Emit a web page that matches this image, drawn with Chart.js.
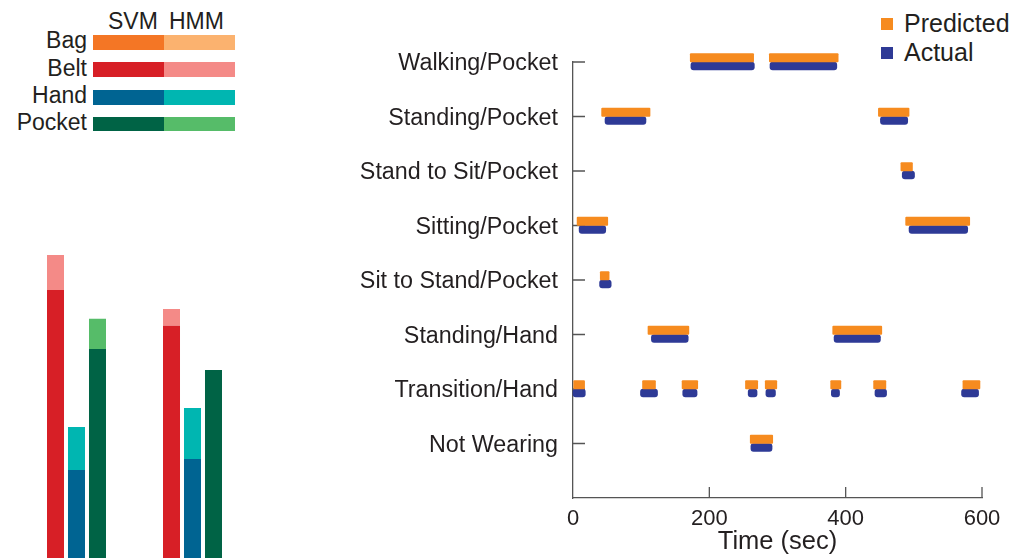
<!DOCTYPE html>
<html>
<head>
<meta charset="utf-8">
<title>Activity recognition: predicted vs actual</title>
<script src="https://cdn.jsdelivr.net/npm/chart.js@4.4.1/dist/chart.umd.min.js"></script>
<style>
  body { margin: 0; width: 1027px; height: 558px; overflow: hidden; background: #fff;
         font-family: "Liberation Sans", Arial, sans-serif; color: #231f20; }
  .abs { position: absolute; white-space: nowrap; line-height: 1; }
  #barsWrap { position: absolute; left: 0; top: 240px; }
  #timeWrap { position: absolute; left: 300px; top: 0; }
</style>
</head>
<body>
<div id="posLegend"></div>
<div id="timeLegend"></div>
<div id="barsWrap"><canvas id="accuracyChart" width="260" height="318"></canvas></div>
<div id="timeWrap"><canvas id="timelineChart" width="727" height="558"></canvas></div>
<script>
// Sensor placement key (SVM shade / HMM shade)
const positions = ['Bag', 'Belt', 'Hand', 'Pocket'];
const svmColors = ['#f47625', '#d71f26', '#006492', '#006345'];
const hmmColors = ['#fbb26f', '#f48a87', '#00b6b1', '#56bc69'];

// Accuracy bars, two groups, SVM with HMM on top
const barGroups = ['Group 1', 'Group 2'];
const beltSvm = [84.3, 73.0];
const beltHmm = [95.3, 78.3];
const handSvm = [27.7, 31.1];
const handHmm = [41.2, 47.2];
const pocketSvm = [65.7, 59.1];
const pocketHmm = [75.2, 59.1];

// Timeline: [start, end] in seconds for each activity row
const activities = ['Walking/Pocket', 'Standing/Pocket', 'Stand to Sit/Pocket', 'Sitting/Pocket',
  'Sit to Stand/Pocket', 'Standing/Hand', 'Transition/Hand', 'Not Wearing'];
const predicted = [
  [[172, 265], [288, 389]],
  [[42, 113], [448, 493]],
  [[481, 498]],
  [[6, 51], [488, 582]],
  [[40, 53]],
  [[110, 170], [381, 453]],
  [[1, 17], [102, 121], [160, 183], [253, 271], [282, 299], [378, 393], [441, 459], [572, 597]],
  [[260, 293]]
];
const actual = [
  [[173, 266], [289, 387]],
  [[47, 107], [451, 491]],
  [[483, 501]],
  [[9, 48], [493, 579]],
  [[39, 56]],
  [[115, 169], [383, 451]],
  [[0, 18], [99, 124], [161, 182], [257, 270], [283, 297], [379, 391], [443, 460], [570, 595]],
  [[261, 292]]
];
const timeTicks = [0, 200, 400, 600];

const ORANGE = '#f68b1f';
const BLUE = '#2e3a96';
const AXIS = '#555555';
const TEXT = '#231f20';

Chart.defaults.font.family = '"Liberation Sans", Arial, sans-serif';
Chart.defaults.color = TEXT;

// ---- HTML keys ----
function addText(parent, text, css) {
  const el = document.createElement('div');
  el.className = 'abs';
  el.textContent = text;
  Object.assign(el.style, css);
  parent.appendChild(el);
  return el;
}

const posLegend = document.getElementById('posLegend');
addText(posLegend, 'SVM', { left: '108px', top: '9.5px', fontSize: '23px' });
addText(posLegend, 'HMM', { left: '169px', top: '9.5px', fontSize: '23px' });
const rowTops = [35, 62.3, 90, 116.7];
positions.forEach((p, i) => {
  addText(posLegend, p, { right: (1027 - 87) + 'px', top: (rowTops[i] - 5.8) + 'px', fontSize: '23px', textAlign: 'right' });
  [svmColors[i], hmmColors[i]].forEach((c, k) => {
    const sw = document.createElement('div');
    Object.assign(sw.style, { position: 'absolute', left: (93 + k * 71) + 'px', top: rowTops[i] + 'px',
      width: '71px', height: '14.5px', background: c });
    posLegend.appendChild(sw);
  });
});

const timeLegend = document.getElementById('timeLegend');
[['Predicted', ORANGE, 18], ['Actual', BLUE, 47]].forEach(([label, color, top]) => {
  const sq = document.createElement('div');
  Object.assign(sq.style, { position: 'absolute', left: '881px', top: top + 'px', width: '12px', height: '12px', background: color });
  timeLegend.appendChild(sq);
  addText(timeLegend, label, { left: '904px', top: (top - 7.5) + 'px', fontSize: '25px' });
});

// ---- accuracy bars ----
const stackSets = [
  ['Belt', beltSvm, beltHmm],
  ['Hand', handSvm, handHmm],
  ['Pocket', pocketSvm, pocketHmm]
];
const barDatasets = [];
stackSets.forEach(([name, svm, hmm]) => {
  const ci = positions.indexOf(name);
  barDatasets.push({ label: name + ' SVM', data: svm, backgroundColor: svmColors[ci], stack: name });
  barDatasets.push({ label: name + ' HMM', data: hmm.map((v, k) => v - svm[k]), backgroundColor: hmmColors[ci], stack: name });
});

new Chart(document.getElementById('accuracyChart'), {
  type: 'bar',
  data: { labels: barGroups, datasets: barDatasets },
  options: {
    responsive: false,
    animation: false,
    categoryPercentage: 0.543,
    barPercentage: 0.81,
    layout: { padding: { left: 18.5, right: 9.5, top: 0, bottom: 0 } },
    plugins: { legend: { display: false }, tooltip: { enabled: false } },
    scales: {
      x: { stacked: true, display: false },
      y: { stacked: true, display: false, min: 0, max: 100 }
    }
  }
});

// ---- timeline ----
function toPoints(rows) {
  const pts = [];
  rows.forEach((segs, i) => segs.forEach(s => pts.push({ x: s, y: activities[i] })));
  return pts;
}

const inwardTicks = {
  id: 'inwardTicks',
  beforeDatasetsDraw(chart) {
    const { ctx, chartArea, scales } = chart;
    ctx.save();
    ctx.strokeStyle = AXIS;
    ctx.lineWidth = 1.3;
    ctx.beginPath();
    activities.forEach((a, i) => {
      const y = scales.y.getPixelForValue(i);
      ctx.moveTo(chartArea.left, y);
      ctx.lineTo(chartArea.left + 12, y);
    });
    timeTicks.slice(1).forEach(t => {
      const x = scales.x.getPixelForValue(t);
      ctx.moveTo(x, chartArea.bottom);
      ctx.lineTo(x, chartArea.bottom - 11);
    });
    ctx.stroke();
    ctx.restore();
  }
};

new Chart(document.getElementById('timelineChart'), {
  type: 'bar',
  data: {
    labels: activities.concat(['']),
    datasets: [
      { label: 'Predicted', data: toPoints(predicted), backgroundColor: ORANGE,
        barThickness: 8.5, borderRadius: 1, borderSkipped: false, clip: false },
      { label: 'Actual', data: toPoints(actual), backgroundColor: BLUE,
        barThickness: 8, borderRadius: 3, borderSkipped: false, clip: false }
    ]
  },
  options: {
    responsive: false,
    animation: false,
    indexAxis: 'y',
    layout: { padding: { top: 62, right: 45, left: 0, bottom: 0 } },
    plugins: { legend: { display: false }, tooltip: { enabled: false } },
    scales: {
      y: {
        type: 'category',
        offset: false,
        grid: { display: false, drawTicks: false },
        border: { display: true, color: AXIS, width: 1.3 },
        ticks: { autoSkip: false, padding: 15, labelOffset: 2, font: { size: 23.3 }, color: TEXT },
        afterFit: s => { s.width = 273; }
      },
      x: {
        type: 'linear',
        min: 0,
        max: 600,
        grid: { display: false, drawTicks: false },
        border: { display: true, color: AXIS, width: 1.3 },
        afterBuildTicks: s => { s.ticks = timeTicks.map(v => ({ value: v })); },
        ticks: { padding: 8, font: { size: 22 }, color: TEXT },
        title: { display: true, text: 'Time (sec)', font: { size: 25.5 }, color: TEXT, padding: { top: 0, bottom: 1 } },
        afterFit: s => { s.height = 60; }
      }
    }
  },
  plugins: [inwardTicks]
});
</script>
</body>
</html>
